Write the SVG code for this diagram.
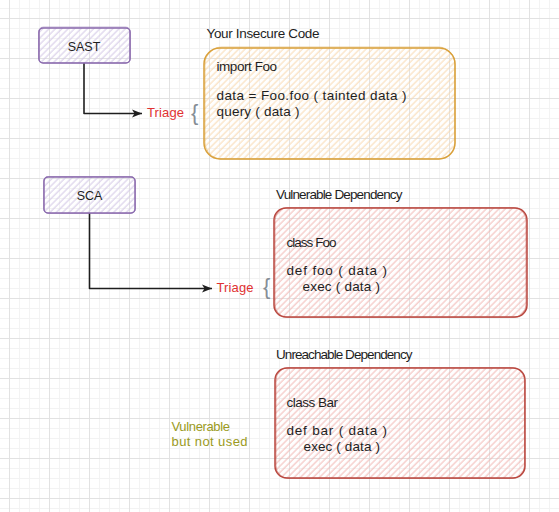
<svg xmlns="http://www.w3.org/2000/svg" width="559" height="512" viewBox="0 0 559 512">
  <style>
    text { font-family: "Liberation Sans", Arial, sans-serif; }
    .t { font-size: 13.5px; fill: #1e1e1e; }
    .lbl { font-size: 12.5px; fill: #1e1e1e; text-anchor: middle; }
    .triage { font-size: 13px; fill: #e03131; }
    .brace { font-size: 22px; fill: #868e96; }
    .note { font-size: 13px; fill: #9a9a22; }
    .purple { fill: url(#hatchPurple); stroke: #8a6aad; stroke-width: 1.5; }
    .orange { fill: url(#hatchOrange); stroke: #d9a03a; stroke-width: 1.5; }
    .red { fill: url(#hatchRed); stroke: #b9473f; stroke-width: 1.5; }
    .sk { fill: none; stroke-width: 0.8; stroke-opacity: 0.6; }
    .conn { fill: none; stroke: #1e1e1e; stroke-width: 1.6; stroke-linejoin: round; }
  </style>
  <defs>
    <pattern id="grid" patternUnits="userSpaceOnUse" x="9" y="18" width="40" height="40">
      <rect width="40" height="40" fill="#ffffff"/>
      <path d="M10.5 0V40M20.5 0V40M30.5 0V40M0 10.5H40M0 20.5H40M0 30.5H40" stroke="#f3f3f3" stroke-width="1"/>
      <path d="M0.5 0V40M0 0.5H40" stroke="#e2e2e2" stroke-width="1"/>
    </pattern>
    <pattern id="hatchPurple" patternUnits="userSpaceOnUse" width="4.5" height="4.5" patternTransform="rotate(45)">
      <line x1="1" y1="0" x2="1" y2="4.5" stroke="#d3c7e6" stroke-width="1"/>
    </pattern>
    <pattern id="hatchOrange" patternUnits="userSpaceOnUse" width="4.5" height="4.5" patternTransform="rotate(45)">
      <line x1="1" y1="0" x2="1" y2="4.5" stroke="#f9d9b0" stroke-width="1"/>
    </pattern>
    <pattern id="hatchRed" patternUnits="userSpaceOnUse" width="4.5" height="4.5" patternTransform="rotate(45)">
      <line x1="1" y1="0" x2="1" y2="4.5" stroke="#f2b8b4" stroke-width="1"/>
    </pattern>
    <marker id="arrow" markerUnits="userSpaceOnUse" markerWidth="12" markerHeight="10" refX="10" refY="5" orient="auto">
      <path d="M0 1 L10 5 L0 9 L2.5 5 Z" fill="#1e1e1e"/>
    </marker>
  </defs>

  <rect width="559" height="512" fill="url(#grid)"/>

  <g id="connectors">
    <path class="conn" d="M84 63 L84 113.5 L142 113.5" marker-end="url(#arrow)"/>
    <path class="conn" d="M89.5 213 L89.5 288.5 L212 288.5" marker-end="url(#arrow)"/>
  </g>

  <g id="sast">
    <rect class="purple" x="39" y="28" width="91" height="35" rx="4"/>
    <rect class="sk" stroke="#8a6aad" x="38.5" y="27" width="92" height="36" rx="5"/>
    <text class="lbl" x="84" y="50.5">SAST</text>
  </g>

  <g id="sca">
    <rect class="purple" x="44" y="177" width="91" height="36" rx="4"/>
    <rect class="sk" stroke="#8a6aad" x="43.5" y="176.5" width="92" height="37" rx="5"/>
    <text class="lbl" x="89.5" y="200">SCA</text>
  </g>

  <g id="triage-sast">
    <text class="triage" x="147" y="117" textLength="37" lengthAdjust="spacing">Triage</text>
    <text class="brace" x="191" y="119.5">{</text>
  </g>

  <g id="triage-sca">
    <text class="triage" x="216.5" y="292" textLength="37" lengthAdjust="spacing">Triage</text>
    <text class="brace" x="263" y="294">{</text>
  </g>

  <g id="insecure-code">
    <text class="t" x="206.5" y="37.5" textLength="113" lengthAdjust="spacing">Your Insecure Code</text>
    <rect class="orange" x="204" y="48" width="251" height="111" rx="16"/>
    <rect class="sk" stroke="#d9a03a" x="205" y="47" width="250" height="112" rx="17"/>
    <text class="t" x="216.5" y="71" textLength="60.5" lengthAdjust="spacing">import Foo</text>
    <text class="t" x="216.5" y="99.5" textLength="190" lengthAdjust="spacing">data = Foo.foo ( tainted data )</text>
    <text class="t" x="216.5" y="115.5" textLength="83" lengthAdjust="spacing">query ( data )</text>
  </g>

  <g id="vulnerable-dependency">
    <text class="t" x="276" y="198.5" textLength="126.5" lengthAdjust="spacing">Vulnerable Dependency</text>
    <rect class="red" x="274" y="208" width="253" height="109" rx="12"/>
    <rect class="sk" stroke="#b9473f" x="275" y="207.5" width="251" height="110" rx="13"/>
    <text class="t" x="286.5" y="246.5" textLength="50" lengthAdjust="spacing">class Foo</text>
    <text class="t" x="286.5" y="275" textLength="100.5" lengthAdjust="spacing">def foo ( data )</text>
    <text class="t" x="302.5" y="290.5" textLength="77.5" lengthAdjust="spacing">exec ( data )</text>
  </g>

  <g id="unreachable-dependency">
    <text class="t" x="276" y="358.5" textLength="136.5" lengthAdjust="spacing">Unreachable Dependency</text>
    <rect class="red" x="275" y="368" width="250" height="110" rx="12"/>
    <rect class="sk" stroke="#b9473f" x="276" y="367.5" width="248.5" height="111" rx="13"/>
    <text class="t" x="286.5" y="406.5" textLength="51.5" lengthAdjust="spacing">class Bar</text>
    <text class="t" x="286.5" y="435" textLength="100.5" lengthAdjust="spacing">def bar ( data )</text>
    <text class="t" x="303.5" y="450.5" textLength="76.5" lengthAdjust="spacing">exec ( data )</text>
  </g>

  <g id="note-unused">
    <text class="note" x="171.5" y="431" textLength="58.5" lengthAdjust="spacing">Vulnerable</text>
    <text class="note" x="171.5" y="445.5" textLength="76" lengthAdjust="spacing">but not used</text>
  </g>
</svg>
